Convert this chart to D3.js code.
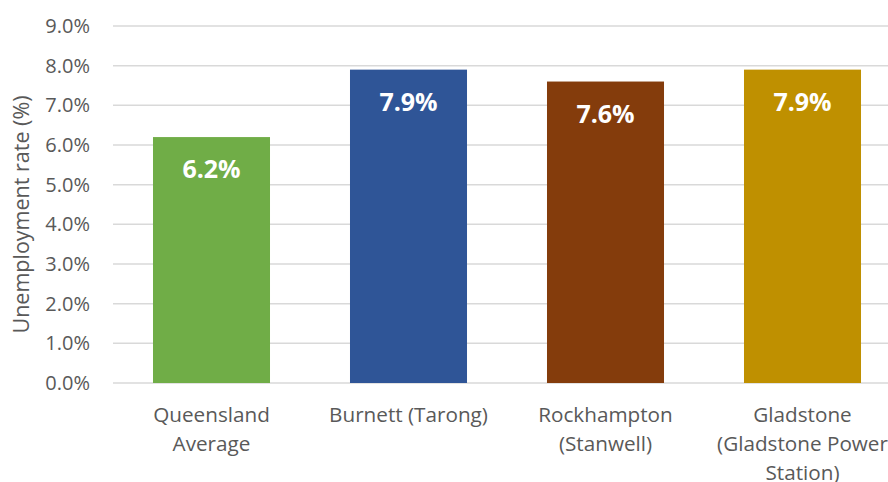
<!DOCTYPE html>
<html>
<head>
<meta charset="utf-8">
<script src="https://cdn.jsdelivr.net/npm/d3@7"></script>
<style>
  html, body { margin: 0; padding: 0; background: #fff; }
  svg { display: block; font-family: "Open Sans", sans-serif; }
</style>
</head>
<body>
<svg id="chart" width="888" height="482"></svg>
<script>
// Unemployment rate by region
const categories = [
  ["Queensland", "Average"],
  ["Burnett (Tarong)"],
  ["Rockhampton", "(Stanwell)"],
  ["Gladstone", "(Gladstone Power", "Station)"]
];
const values = [6.2, 7.9, 7.6, 7.9];
const barColors = ["#70AD47", "#2F5597", "#843C0C", "#BF9000"];
const yTicks = [0, 1, 2, 3, 4, 5, 6, 7, 8, 9];
const yTitle = "Unemployment rate (%)";

const svg = d3.select("#chart");
const margin = { left: 113, right: -13, top: 26, bottom: 99 };
const W = 888, H = 482;

const x = d3.scaleBand()
  .domain(d3.range(values.length))
  .range([margin.left, W - margin.right])
  .paddingInner(0.406)
  .paddingOuter(0.203);

const y = d3.scaleLinear()
  .domain([0, 9])
  .range([H - margin.bottom, margin.top]);

// gridlines
svg.append("g")
  .selectAll("line")
  .data(yTicks)
  .join("line")
  .attr("x1", margin.left)
  .attr("x2", W)
  .attr("y1", d => y(d))
  .attr("y2", d => y(d))
  .attr("stroke", "#D9D9D9")
  .attr("stroke-width", 1.5);

// y axis labels
const yAxis = d3.axisLeft(y)
  .tickValues(yTicks)
  .tickFormat(d => d.toFixed(1) + "%")
  .tickSize(0)
  .tickPadding(23);
svg.append("g")
  .attr("transform", `translate(${margin.left},0)`)
  .call(yAxis)
  .call(g => g.select(".domain").remove())
  .call(g => g.selectAll("text")
    .attr("fill", "#595959")
    .attr("font-size", 20)
    .attr("font-family", "Open Sans, sans-serif"));

// bars
svg.append("g")
  .selectAll("rect")
  .data(values)
  .join("rect")
  .attr("x", (d, i) => x(i))
  .attr("width", x.bandwidth())
  .attr("y", d => y(d))
  .attr("height", d => y(0) - y(d))
  .attr("fill", (d, i) => barColors[i]);

// value labels
svg.append("g")
  .selectAll("text")
  .data(values)
  .join("text")
  .attr("x", (d, i) => x(i) + x.bandwidth() / 2)
  .attr("y", d => y(d) + 41)
  .attr("text-anchor", "middle")
  .attr("fill", "#fff")
  .attr("font-weight", "bold")
  .attr("font-size", 25)
  .text(d => d.toFixed(1) + "%");

// category labels
const cat = svg.append("g")
  .selectAll("text")
  .data(categories)
  .join("text")
  .attr("text-anchor", "middle")
  .attr("fill", "#595959")
  .attr("font-size", 20.7);
cat.each(function (lines, i) {
  const t = d3.select(this);
  lines.forEach((ln, j) => {
    t.append("tspan")
      .attr("x", x(i) + x.bandwidth() / 2)
      .attr("y", 422 + j * 29)
      .text(ln);
  });
});

// y axis title
svg.append("text")
  .attr("transform", `translate(29,${(y(0) + y(9)) / 2 + 10}) rotate(-90)`)
  .attr("text-anchor", "middle")
  .attr("fill", "#595959")
  .attr("font-size", 21.5)
  .text(yTitle);
</script>
</body>
</html>
